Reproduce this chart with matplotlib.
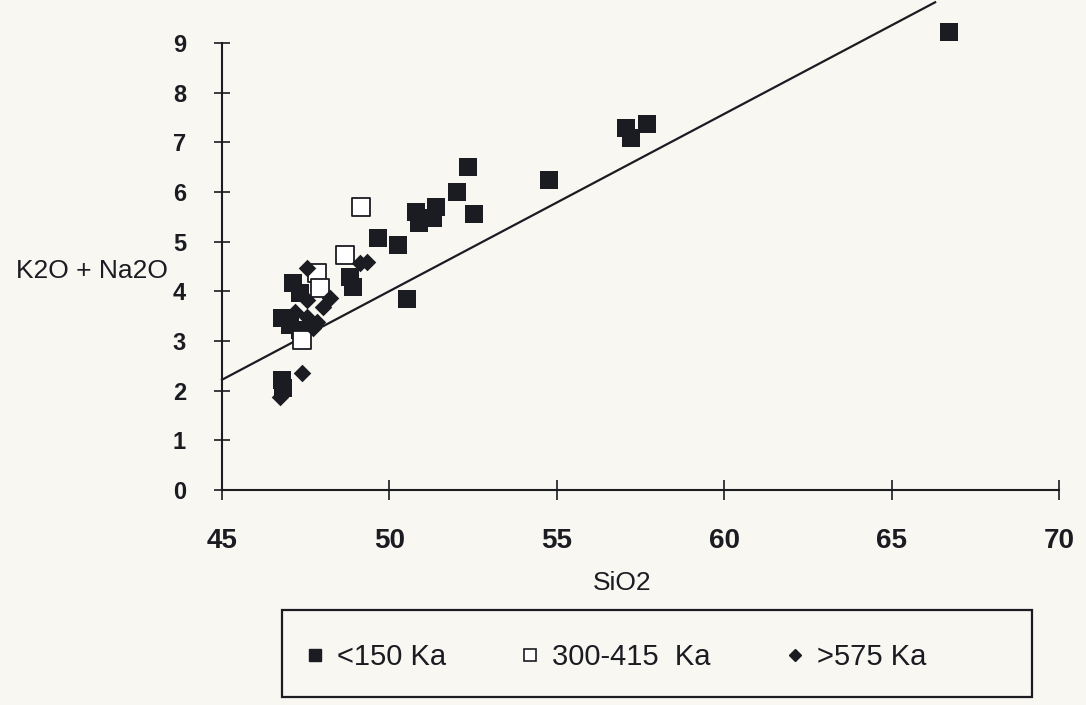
import matplotlib
matplotlib.use("Agg")
import matplotlib.pyplot as plt
from matplotlib.lines import Line2D
from matplotlib.patches import Rectangle

# ---- data ----
young_x = [66.71, 57.07, 57.22, 57.69, 54.76, 52.34, 52.01, 52.54, 50.78, 51.38,
           50.87, 51.29, 49.67, 50.27, 50.54, 48.83, 48.92, 47.13, 46.80, 47.34,
           47.04, 47.34, 46.80, 46.83]
young_y = [9.22, 7.28, 7.08, 7.36, 6.24, 6.50, 6.00, 5.55, 5.59, 5.69,
           5.37, 5.47, 5.07, 4.93, 3.84, 4.29, 4.08, 4.17, 3.46, 3.96,
           3.32, 3.22, 2.21, 2.05]

mid_x = [49.16, 48.68, 47.84, 47.93, 47.40]
mid_y = [5.69, 4.73, 4.37, 4.06, 3.02]

old_x = [47.54, 49.34, 49.13, 48.23, 48.02, 47.54, 47.19, 47.54, 47.84, 47.72,
         47.40, 46.74]
old_y = [4.47, 4.59, 4.57, 3.86, 3.68, 3.82, 3.58, 3.48, 3.38, 3.26,
         2.35, 1.87]

line_x = [45.0, 66.3]
line_y = [2.22, 9.82]

x_ticks = [45, 50, 55, 60, 65, 70]
y_ticks = [0, 1, 2, 3, 4, 5, 6, 7, 8, 9]
legend_labels = ["<150 Ka", "300-415  Ka", ">575 Ka"]

BG = "#f8f7f1"
INK = "#1b1b22"

plt.rcParams['font.family'] = ['Liberation Sans', 'DejaVu Sans']

fig = plt.figure(figsize=(10.86, 7.05), dpi=100, facecolor=BG)
ax = fig.add_axes([222/1086, 1-490/705, (1059-222)/1086, (490-43)/705])
ax.set_facecolor(BG)

ax.plot(line_x, line_y, color=INK, lw=1.6, clip_on=False, zorder=2)

ax.scatter(young_x, young_y, marker='s', s=150, color=INK, linewidths=0,
           clip_on=False, zorder=3)
ax.scatter(mid_x, mid_y, marker='s', s=150, facecolors='white', edgecolors=INK,
           linewidths=1.3, clip_on=False, zorder=4)
ax.scatter(old_x, old_y, marker='D', s=80, color=INK, linewidths=0,
           clip_on=False, zorder=5)

ax.set_xlim(45, 70)
ax.set_ylim(0, 9)
ax.set_xticks(x_ticks)
ax.set_yticks(y_ticks)
ax.set_xticklabels([str(v) for v in x_ticks], fontsize=20, fontweight='bold', color=INK)
ax.set_yticklabels([str(v) for v in y_ticks], fontsize=17, fontweight='bold', color=INK)

for s in ['top', 'right']:
    ax.spines[s].set_visible(False)
for s in ['left', 'bottom']:
    ax.spines[s].set_color(INK)
    ax.spines[s].set_linewidth(1.5)

ax.tick_params(axis='x', direction='inout', length=14, width=1.2, color=INK, pad=20)
ax.tick_params(axis='y', direction='inout', length=12, width=1.2, color=INK, pad=20)

fig.text(92/1086, 1-271/705, "K2O + Na2O", fontsize=19, color=INK,
         ha='center', va='center')
fig.text(622/1086, 1-583/705, "SiO2", fontsize=19, color=INK,
         ha='center', va='center')

# legend box
fig.add_artist(Rectangle((282/1086, 8/705), 750/1086, 87/705,
                         transform=fig.transFigure, fill=False,
                         edgecolor=INK, linewidth=1.6))

handles = [
    Line2D([], [], marker='s', ls='none', markersize=8, color=INK),
    Line2D([], [], marker='s', ls='none', markersize=8, markerfacecolor='white',
           markeredgecolor=INK, markeredgewidth=1.2),
    Line2D([], [], marker='D', ls='none', markersize=6, color=INK),
]
leg = fig.legend(handles, legend_labels, loc='center left',
                 bbox_to_anchor=(306/1086, 1-657/705),
                 ncol=3, fontsize=21, frameon=False,
                 borderpad=0, handletextpad=0.45, columnspacing=2.6,
                 handlelength=0.6, borderaxespad=0)
for t in leg.get_texts():
    t.set_color(INK)

fig.savefig("out.png", dpi=100, facecolor=BG)
